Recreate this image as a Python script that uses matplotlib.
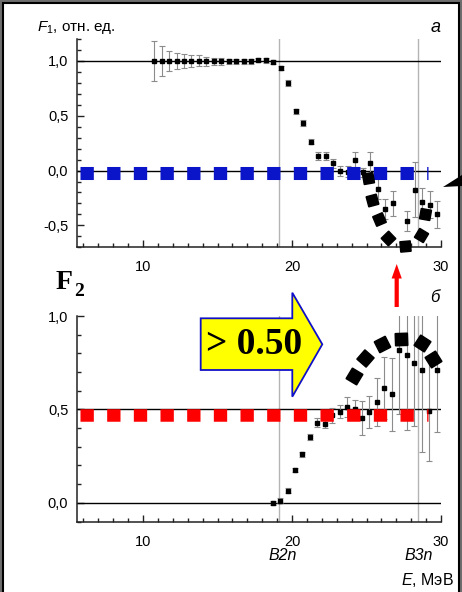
import matplotlib
matplotlib.use('Agg')
import matplotlib.pyplot as plt
from matplotlib.patches import Polygon, Rectangle
from matplotlib.ticker import MultipleLocator, FixedLocator, FuncFormatter

plt.rcParams['font.family'] = ['Liberation Sans', 'DejaVu Sans']
plt.rcParams['mathtext.fontset'] = 'custom'
plt.rcParams['mathtext.it'] = 'Liberation Sans:italic'
plt.rcParams['mathtext.rm'] = 'Liberation Sans'
plt.rcParams['lines.scale_dashes'] = False

W, H = 462, 592

# ---- panel a: F1 ----
f1_e = [10.75, 11.25, 11.75, 12.25, 12.75, 13.25, 13.75, 14.25, 14.75, 15.25,
        15.75, 16.25, 16.75, 17.25, 17.75, 18.25, 18.75, 19.25, 19.75, 20.25,
        20.75, 21.25, 21.75, 22.25, 22.75, 23.25, 23.75, 24.25, 24.75, 25.25,
        25.75, 26.25, 26.75, 27.75, 28.25, 28.75, 29.25, 29.75]
f1_val = [1.00, 1.00, 1.00, 1.00, 1.00, 1.00, 1.00, 0.995, 0.995, 0.995,
          0.995, 0.995, 0.995, 0.995, 1.01, 1.005, 0.99, 0.935, 0.80, 0.54,
          0.435, 0.265, 0.135, 0.135, 0.065, -0.005, -0.01, 0.10, -0.015, 0.065,
          -0.165, -0.35, -0.30, -0.46, -0.175, -0.29, -0.31, -0.40]
f1_err = [0.18, 0.135, 0.09, 0.07, 0.06, 0.058, 0.05, 0.042, 0.035, 0.03,
          0.025, 0.025, 0.02, 0.02, 0.02, 0.02, 0.02, 0.02, 0.025, 0.025,
          0.025, 0.025, 0.035, 0.035, 0.04, 0.045, 0.05, 0.065, 0.04, 0.10,
          0.09, 0.09, 0.115, 0.095, 0.25, 0.13, 0.12, 0.125]

# ---- panel b: F2 ----
f2_e = [18.7, 19.2, 19.7, 20.2, 20.7, 21.2, 21.7, 22.2, 22.7, 23.2, 23.7, 24.2,
        24.7, 25.2, 25.7, 26.2, 26.7, 27.2, 27.7, 28.2, 28.7, 29.2, 29.7]
f2_val = [0.0, 0.012, 0.066, 0.175, 0.26, 0.352, 0.43, 0.423, 0.47, 0.488, 0.512, 0.50,
          0.453, 0.487, 0.542, 0.613, 0.581, 0.818, 0.79, 0.749, 0.713, 0.492, 0.711]
f2_err = [0.01, 0.012, 0.012, 0.012, 0.014, 0.015, 0.024, 0.022, 0.04, 0.036, 0.053, 0.05,
          0.09, 0.086, 0.128, 0.166, 0.196, 0.34, 0.40, 0.34, 0.44, 0.27, 0.33]

# thresholds
b2n = 19.15
b3n = 28.47

# dashed reference levels
level_x = [5.77, 29.15]
blue_level = -0.023
red_level = 0.472

# hand-drawn dotted curves (centres of the dots)
curve1_x = [25.08, 25.35, 25.84, 26.46, 27.58, 28.66, 28.9]
curve1_y = [-0.066, -0.264, -0.44, -0.615, -0.69, -0.59, -0.395]
curve1_ang = [10, 15, 23, 44, 5, 59, 80]
curve2_x = [24.16, 24.9, 26.02, 27.32, 28.75, 29.44]
curve2_y = [0.679, 0.777, 0.85, 0.877, 0.857, 0.768]
curve2_ang = [59, 49, 27, 2, -33, -58]


def px(x, y):
    return (x / W, 1 - y / H)


def fmt(v, p):
    s = '%.1f' % v
    if s == '-0.0':
        s = '0.0'
    return s.replace('.', ',')


def style(ax, ylim, ymaj):
    ax.set_facecolor('none')
    ax.set_xlim(5.55, 30.0)
    ax.set_ylim(*ylim)
    for s in ['top', 'right']:
        ax.spines[s].set_visible(False)
    for s in ['left', 'bottom']:
        ax.spines[s].set_linewidth(1.1)
        ax.spines[s].set_color('#222222')
    ax.xaxis.set_major_locator(FixedLocator([10, 20, 30]))
    ax.xaxis.set_minor_locator(MultipleLocator(1))
    ax.yaxis.set_major_locator(FixedLocator(ymaj))
    ax.yaxis.set_minor_locator(MultipleLocator(0.1))
    ax.yaxis.set_major_formatter(FuncFormatter(fmt))
    ax.tick_params(which='both', direction='in', width=1, color='#222222')
    ax.tick_params(which='major', length=5, labelsize=10.5)
    ax.tick_params(axis='x', which='major', pad=9)
    ax.tick_params(axis='y', which='major', pad=6)
    ax.tick_params(which='minor', length=3)


fig = plt.figure(figsize=(W / 100, H / 100), dpi=100)
fig.patch.set_facecolor('#6e6e6e')
fig.patches.append(Rectangle(px(3, 640), 456 / W, 637 / H, transform=fig.transFigure,
                             facecolor='white', edgecolor='black', lw=1.5, zorder=-5))

ax1 = fig.add_axes([76.7 / W, 1 - 247.3 / H, (441 - 76.7) / W, (247.3 - 39) / H])
ax2 = fig.add_axes([76.7 / W, 1 - 522.3 / H, (441 - 76.7) / W, (522.3 - 316) / H])
style(ax1, (-0.7, 1.2), [-0.5, 0.0, 0.5, 1.0])
style(ax2, (-0.104, 1.0), [0.0, 0.5, 1.0])

for ax, lev in [(ax1, [0.0, 1.0]), (ax2, [0.0, 0.5])]:
    for v in lev:
        ax.axhline(v, color='black', lw=1.0, zorder=2)
    ax.axvline(b2n, color='#b4b4b4', lw=1.0, zorder=1)
    ax.axvline(b3n, color='#b4b4b4', lw=1.0, zorder=1)

ax1.errorbar(f1_e, f1_val, yerr=f1_err, fmt='s', color='black', ms=3.2,
             ecolor='#8c8c8c', elinewidth=0.8, capsize=2, capthick=0.8, zorder=3)
ax2.errorbar(f2_e, f2_val, yerr=f2_err, fmt='s', color='black', ms=3.2,
             ecolor='#8c8c8c', elinewidth=0.8, capsize=2, capthick=0.8, zorder=3)

ax1.plot(level_x, [blue_level, blue_level], color='#0a14c8', lw=9.4,
         dashes=(9.6, 9.6), dash_capstyle='butt', zorder=4)
ax2.plot(level_x, [red_level, red_level], color='#ff0000', lw=9.0,
         dashes=(9.6, 9.6), dash_capstyle='butt', zorder=4)

for x, y, a in zip(curve1_x, curve1_y, curve1_ang):
    ax1.plot([x], [y], marker=(4, 0, 45 + a), ms=10.6, color='black',
             ls='none', zorder=5, clip_on=False)
for x, y, a in zip(curve2_x, curve2_y, curve2_ang):
    ax2.plot([x], [y], marker=(4, 0, 45 + a), ms=12.5, color='black',
             ls='none', zorder=5, clip_on=False)

# yellow arrow
arrow_pts = [(200.7, 318.3), (292.3, 318.3), (292.3, 292.7), (322.3, 344.3),
             (292.3, 396.7), (292.3, 370), (200.7, 370)]
fig.patches.append(Polygon([px(*p) for p in arrow_pts], closed=True, transform=fig.transFigure,
                           facecolor='#ffff00', edgecolor='#1010c8', lw=1.3, zorder=6))
fig.text(*px(254, 344), '> 0.50', family='Liberation Serif', weight='bold', fontsize=27,
         ha='center', va='center', zorder=7)

# red arrow
red_pts = [(394.6, 307), (398.8, 307), (398.8, 278.5), (401.8, 278.5), (396.7, 264),
           (391.6, 278.5), (394.6, 278.5)]
fig.patches.append(Polygon([px(*p) for p in red_pts], closed=True, transform=fig.transFigure,
                           facecolor='#ff0000', edgecolor='none', zorder=6))

# black pointer at right edge
fig.patches.append(Polygon([px(443, 187), px(462, 175), px(462, 186)], closed=True,
                           transform=fig.transFigure, facecolor='black', edgecolor='none', zorder=6))

# labels
fig.text(*px(37, 27), '$F_1$, отн. ед.', fontsize=11, ha='left', va='center')
fig.text(*px(436, 27), 'а', fontsize=13, style='italic', ha='center', va='center')
fig.text(*px(435, 297), 'б', fontsize=12, style='italic', ha='center', va='center')
fig.text(*px(283, 556), 'B2n', fontsize=11.5, style='italic', ha='center', va='center')
fig.text(*px(419, 556), 'B3n', fontsize=11.5, style='italic', ha='center', va='center')
fig.text(*px(454, 580), '$E$, МэВ', fontsize=11.5, ha='right', va='center')
fig.text(*px(56, 288.5), 'F', family='Liberation Serif', weight='bold', fontsize=20,
         ha='left', va='baseline')
fig.text(*px(74.5, 296), '2', family='Liberation Serif', weight='bold', fontsize=14,
         ha='left', va='baseline')

fig.savefig('out.png', dpi=100, facecolor=fig.get_facecolor())
